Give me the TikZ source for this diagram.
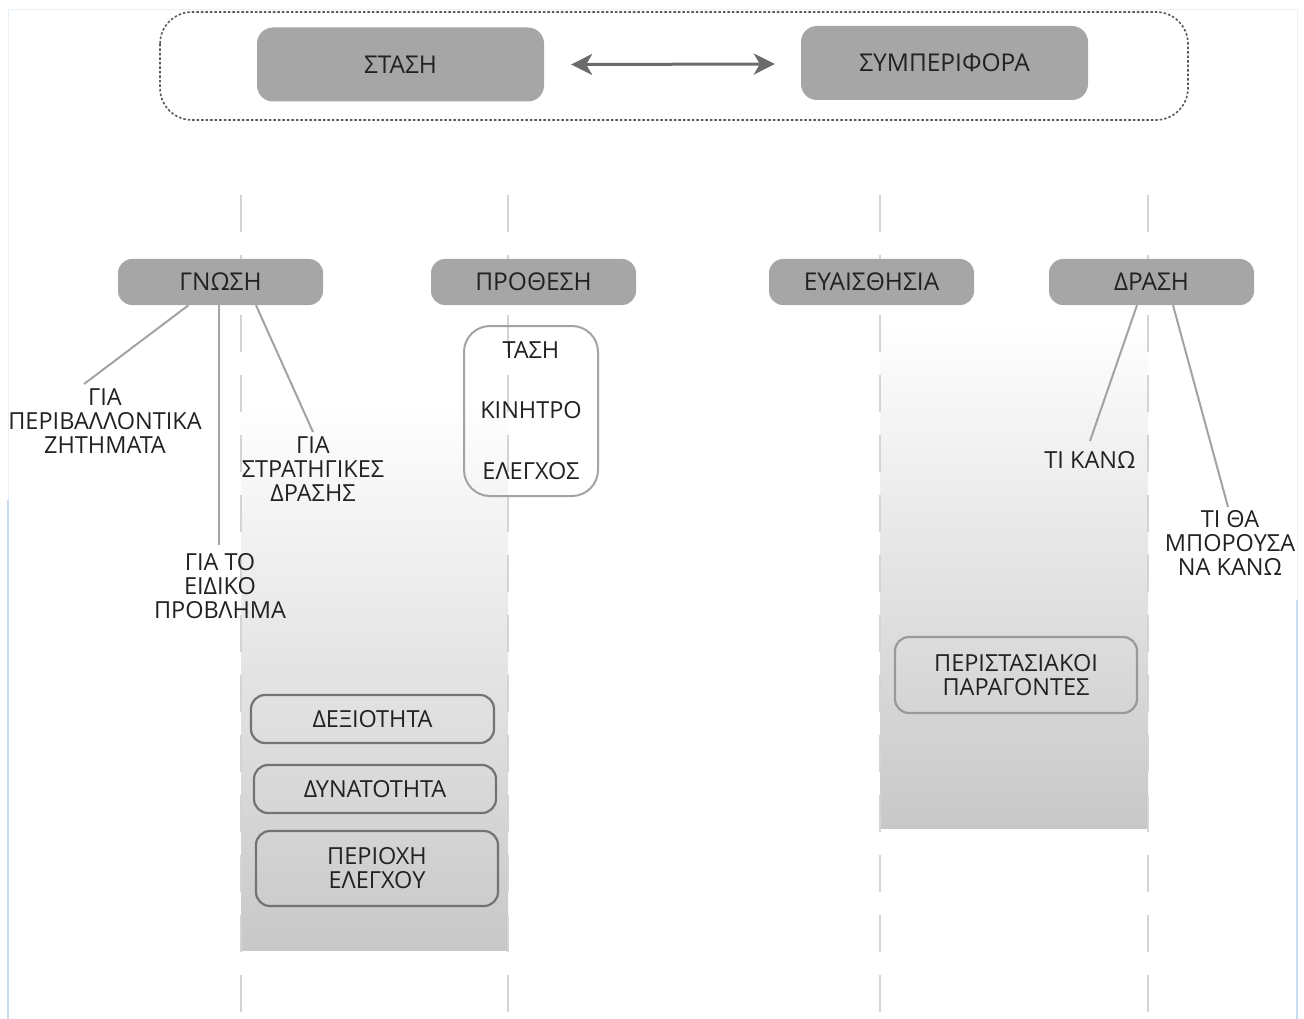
\documentclass[tikz,border=0pt]{standalone}
\usepackage{fontspec}
\setmainfont{Open Sans}
\usetikzlibrary{arrows.meta,calc}
\definecolor{boxgray}{HTML}{A6A6A6}
\definecolor{inkgray}{HTML}{222222}
\definecolor{linkgray}{HTML}{A3A3A3}
\definecolor{guidegray}{HTML}{D4D4D4}
\definecolor{shadegray}{HTML}{C8C8C8}
\definecolor{rimblue}{HTML}{C9DCF2}
\definecolor{framegray}{HTML}{5A5A5A}
\begin{document}
\begin{tikzpicture}[x=1pt,y=-1pt,
  every node/.style={text=inkgray},
  headbox/.style={fill=boxgray, rounded corners=14pt, minimum width=205pt, minimum height=46pt, inner sep=0pt, font=\fontsize{24.5}{26}\selectfont},
  bigbox/.style={fill=boxgray, rounded corners=16pt, minimum width=287pt, minimum height=74pt, inner sep=0pt, font=\fontsize{24.5}{26}\selectfont},
  itembox/.style={draw=#1, line width=2.2pt, rounded corners=14pt, minimum width=242pt, inner sep=0pt, align=center, font=\fontsize{23.5}{24}\selectfont},
  lbl/.style={align=center, inner sep=0pt, anchor=north, font=\fontsize{23.5}{24}\selectfont},
  link/.style={draw=linkgray, line width=2pt},
  guide/.style={draw=guidegray, line width=2pt, dash pattern=on 37pt off 23pt}
]
\useasboundingbox (0,0) rectangle (1304,1019);

% thin page rim
\draw[rimblue!45, line width=1pt] (8,1019) -- (8,10) -- (1297,10) -- (1297,1019);
\draw[rimblue, line width=1.2pt] (8,500) -- (8,1019) (1297,600) -- (1297,1019);

% shaded columns
\shade[top color=white, bottom color=shadegray] (241,400) rectangle (508,950);
\shade[top color=white, bottom color=shadegray] (880,320) rectangle (1148,828);

% dashed column guides
\foreach \gx in {241,508,880,1148}
  \draw[guide] (\gx,195) -- (\gx,1019);

% attitude <-> behaviour frame
\draw[framegray, line width=1.6pt, dash pattern=on 2.5pt off 2pt, rounded corners=32pt]
  (160,12) rectangle (1188,120);
\node[bigbox] (stasi) at (400.5,64.5) {ΣΤΑΣΗ};
\node[bigbox] (symp) at (944.5,63) {ΣΥΜΠΕΡΙΦΟΡΑ};
\draw[framegray!90, line width=3pt, {Stealth[length=21pt,width=21pt,inset=6pt]}-{Stealth[length=21pt,width=21pt,inset=6pt]}]
  ([xshift=27pt]stasi.east) -- ([xshift=-26pt,yshift=-1pt]symp.west);

% column headers
\node[headbox] (gnosi) at (220.5,282) {ΓΝΩΣΗ};
\node[headbox] (prothesi) at (533.5,282) {ΠΡΟΘΕΣΗ};
\node[headbox] (euaisth) at (871.5,282) {ΕΥΑΙΣΘΗΣΙΑ};
\node[headbox] (drasi) at (1151.5,282) {ΔΡΑΣΗ};

% knowledge branches
\node[lbl] (gia1) at (105,388) {ΓΙΑ\\ΠΕΡΙΒΑΛΛΟΝΤΙΚΑ\\ΖΗΤΗΜΑΤΑ};
\node[lbl] (gia2) at (220,553) {ΓΙΑ ΤΟ\\ΕΙΔΙΚΟ\\ΠΡΟΒΛΗΜΑ};
\node[lbl] (gia3) at (313,436) {ΓΙΑ\\ΣΤΡΑΤΗΓΙΚΕΣ\\ΔΡΑΣΗΣ};
\draw[link] ([xshift=-32pt]gnosi.south) -- ([xshift=-21pt,yshift=4pt]gia1.north);
\draw[link] ([xshift=-1.5pt]gnosi.south) -- ([xshift=-1pt,yshift=8pt]gia2.north);
\draw[link] ([xshift=35.5pt]gnosi.south) -- ([yshift=4pt]gia3.north);

% intention components
\node[draw=linkgray, line width=2pt, rounded corners=26pt, minimum width=134pt, minimum height=170pt] (plist) at (531,411) {};
\node[lbl, anchor=center] (tasi) at (531,350) {ΤΑΣΗ};
\node[lbl, anchor=center] (kinitro) at (531,410) {ΚΙΝΗΤΡΟ};
\node[lbl, anchor=center] (elegxos) at (531,471) {ΕΛΕΓΧΟΣ};

% action branches
\node[lbl] (tikano) at (1090,451) {ΤΙ ΚΑΝΩ};
\node[lbl] (tithaa) at (1230,510) {ΤΙ ΘΑ\\ΜΠΟΡΟΥΣΑ\\ΝΑ ΚΑΝΩ};
\draw[link] ([xshift=-14.5pt]drasi.south) -- ([yshift=10pt]tikano.north);
\draw[link] ([xshift=21.5pt]drasi.south) -- ([xshift=-2pt,yshift=3pt]tithaa.north);

% skill boxes
\node[itembox=black!55, minimum width=243pt, minimum height=48pt] (dexiotita) at (372.5,719) {ΔΕΞΙΟΤΗΤΑ};
\node[itembox=black!55, minimum height=48pt] (dynatotita) at (375,789) {ΔΥΝΑΤΟΤΗΤΑ};
\node[itembox=black!55, minimum height=75pt] (periochi) at (377,868.5) {ΠΕΡΙΟΧΗ\\ΕΛΕΓΧΟΥ};
\node[itembox=black!40, minimum height=76pt] (perist) at (1016,675) {ΠΕΡΙΣΤΑΣΙΑΚΟΙ\\ΠΑΡΑΓΟΝΤΕΣ};
\end{tikzpicture}
\end{document}
